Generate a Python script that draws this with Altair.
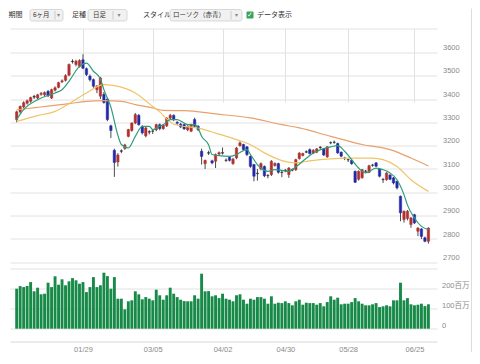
import json
import altair as alt
import pandas as pd

# ---------------- data ----------------
opens = [3312, 3345, 3366, 3382, 3390, 3408, 3404, 3420, 3418, 3433,
         3404, 3438, 3450, 3474, 3480, 3502, 3560, 3548, 3540, 3568,
         3530, 3498, 3483, 3440, 3412, 3420, 3400, 3285, 3180, 3130,
         3176, 3188, 3240, 3265, 3297, 3330, 3282, 3242, 3258, 3262,
         3268, 3290, 3273, 3285, 3318, 3330, 3300, 3292, 3290, 3268,
         3262, 3312, 3283, 3176, 3123, 3168, 3135, 3133, 3164, 3168,
         3137, 3150, 3123, 3147, 3200, 3205, 3195, 3154, 3119, 3080,
         3100, 3111, 3071, 3076, 3115, 3123, 3085, 3093, 3076, 3095,
         3097, 3145, 3158, 3172, 3183, 3168, 3172, 3192, 3186, 3152,
         3212, 3214, 3209, 3172, 3147, 3140, 3137, 3090, 3056, 3063,
         3090, 3086, 3116, 3126, 3100, 3054, 3054, 3074, 3062, 3047,
         2983, 2883, 2888, 2862, 2904, 2833, 2843, 2805, 2790]
highs = [3350, 3372, 3390, 3398, 3410, 3418, 3422, 3430, 3432, 3438,
         3444, 3454, 3474, 3484, 3506, 3552, 3570, 3568, 3570, 3592,
         3535, 3505, 3488, 3460, 3495, 3430, 3405, 3290, 3187, 3168,
         3184, 3208, 3272, 3300, 3340, 3336, 3288, 3280, 3266, 3270,
         3294, 3295, 3292, 3322, 3336, 3334, 3305, 3298, 3294, 3288,
         3294, 3320, 3288, 3187, 3140, 3178, 3140, 3166, 3175, 3192,
         3145, 3155, 3148, 3194, 3219, 3208, 3198, 3158, 3122, 3100,
         3128, 3115, 3078, 3138, 3128, 3127, 3095, 3100, 3108, 3102,
         3144, 3172, 3170, 3180, 3188, 3185, 3190, 3198, 3190, 3198,
         3218, 3222, 3213, 3175, 3152, 3145, 3140, 3093, 3094, 3100,
         3096, 3118, 3122, 3130, 3104, 3062, 3086, 3078, 3066, 3050,
         2986, 2922, 2924, 2894, 2908, 2850, 2846, 2810, 2850]
lows = [3300, 3338, 3360, 3376, 3384, 3400, 3400, 3414, 3412, 3408,
        3400, 3432, 3446, 3468, 3475, 3498, 3552, 3540, 3535, 3528,
        3498, 3475, 3448, 3425, 3400, 3380, 3305, 3233, 3066, 3110,
        3168, 3182, 3236, 3260, 3292, 3286, 3248, 3236, 3248, 3250,
        3262, 3266, 3268, 3280, 3314, 3305, 3290, 3275, 3268, 3262,
        3258, 3278, 3262, 3119, 3100, 3160, 3120, 3104, 3160, 3162,
        3130, 3132, 3118, 3142, 3196, 3178, 3155, 3105, 3047, 3050,
        3094, 3065, 3060, 3070, 3110, 3080, 3065, 3086, 3062, 3090,
        3092, 3140, 3154, 3168, 3162, 3164, 3168, 3186, 3156, 3148,
        3206, 3208, 3165, 3150, 3138, 3130, 3118, 3040, 3050, 3058,
        3084, 3082, 3110, 3108, 3064, 3040, 3050, 3052, 3034, 3012,
        2876, 2870, 2880, 2848, 2864, 2812, 2800, 2786, 2780]
closes = [3345, 3368, 3384, 3392, 3406, 3411, 3418, 3424, 3428, 3414,
          3440, 3448, 3470, 3478, 3500, 3548, 3562, 3562, 3565, 3532,
          3505, 3483, 3455, 3455, 3490, 3385, 3312, 3265, 3128, 3160,
          3178, 3203, 3269, 3297, 3333, 3290, 3255, 3276, 3260, 3263,
          3290, 3273, 3288, 3318, 3330, 3312, 3296, 3280, 3272, 3283,
          3290, 3283, 3269, 3154, 3137, 3170, 3126, 3162, 3170, 3170,
          3138, 3137, 3142, 3190, 3212, 3183, 3162, 3111, 3069, 3082,
          3123, 3071, 3072, 3133, 3124, 3086, 3086, 3095, 3104, 3098,
          3140, 3168, 3166, 3174, 3166, 3180, 3186, 3194, 3160, 3195,
          3213, 3215, 3169, 3155, 3146, 3139, 3123, 3043, 3090, 3097,
          3091, 3114, 3117, 3112, 3069, 3055, 3083, 3056, 3040, 3019,
          2912, 2919, 2919, 2890, 2869, 2847, 2811, 2790, 2847]
# volume, millions of shares
volumes = [200, 213, 208, 213, 233, 187, 205, 172, 175, 230,
           208, 262, 220, 247, 217, 237, 253, 242, 225, 233,
           183, 208, 258, 208, 217, 280, 263, 200, 258, 150,
           150, 97, 137, 142, 187, 172, 147, 158, 150, 142,
           195, 167, 145, 167, 205, 175, 158, 145, 138, 137,
           137, 167, 150, 275, 187, 188, 162, 167, 153, 175,
           150, 145, 137, 167, 172, 145, 125, 150, 145, 158,
           158, 150, 125, 162, 125, 130, 128, 137, 128, 117,
           137, 145, 120, 130, 128, 128, 120, 128, 112, 133,
           162, 145, 155, 122, 125, 125, 133, 153, 137, 125,
           117, 117, 122, 128, 108, 112, 117, 112, 142, 142,
           230, 142, 153, 122, 117, 120, 125, 113, 122]

# moving-average lines read at sample bars (bar index, price)
ma_short_idx = [0, 2, 6, 11, 13, 15, 18, 20, 22, 24, 25, 27, 29, 30, 32, 34, 36, 38, 39, 41,
                42, 44, 46, 49, 51, 52, 53, 55, 56, 58, 61, 63, 64, 66, 67, 69, 70, 72, 74, 76,
                78, 80, 82, 84, 86, 90, 92, 94, 96, 98, 100, 103, 105, 107, 109, 111, 112, 114,
                116, 118]
ma_short_val = [3312, 3354, 3397, 3426, 3440, 3476, 3540, 3554, 3519, 3486, 3440, 3365, 3245,
                3205, 3190, 3240, 3283, 3283, 3269, 3283, 3290, 3312, 3312, 3290, 3290, 3275,
                3240, 3204, 3162, 3157, 3154, 3162, 3171, 3183, 3162, 3119, 3104, 3090, 3097,
                3094, 3090, 3109, 3133, 3158, 3176, 3195, 3200, 3176, 3140, 3104, 3083, 3104,
                3097, 3083, 3054, 2990, 2945, 2890, 2854, 2840]
ma_mid_idx = [0, 6, 11, 15, 20, 25, 28, 34, 39, 41, 43, 45, 53, 57, 63, 67, 71, 76, 80, 84,
              95, 102, 105, 109, 113, 118]
ma_mid_val = [3304, 3329, 3347, 3380, 3426, 3462, 3457, 3426, 3368, 3345, 3315, 3292, 3272,
              3254, 3226, 3204, 3169, 3136, 3126, 3135, 3147, 3147, 3140, 3111, 3054, 3004]
ma_long_idx = [0, 6, 15, 20, 25, 30, 34, 39, 42, 48, 57, 67, 76, 81, 90, 99, 107, 113, 118]
ma_long_val = [3354, 3364, 3380, 3390, 3393, 3390, 3376, 3362, 3351, 3350, 3336, 3319, 3290,
               3276, 3240, 3205, 3183, 3147, 3113]

tick_idx = [19, 39, 59, 77, 95, 114]
tick_lbl = ["01/29", "03/05", "04/02", "04/30", "05/28", "06/25"]
price_ticks = [2700, 2800, 2900, 3000, 3100, 3200, 3300, 3400, 3500, 3600]
vol_ticks = [0, 100e6, 200e6]

# ---------------- tables ----------------
def direction(o, c):
    if abs(c - o) <= 3:
        return "flat"
    return "up" if c > o else "down"

bars = pd.DataFrame({
    "i": list(range(len(closes))),
    "open": opens, "high": highs, "low": lows, "close": closes,
    "vol": [v * 1e6 for v in volumes],
    "dir": [direction(o, c) for o, c in zip(opens, closes)],
})
ma_long = pd.DataFrame({"i": ma_long_idx, "v": ma_long_val})
ma_mid = pd.DataFrame({"i": ma_mid_idx, "v": ma_mid_val})
ma_short = pd.DataFrame({"i": ma_short_idx, "v": ma_short_val})

# ---------------- layout ----------------
W, H = 427, 313
PRICE_BOTTOM = 239.5
P_MIN, P_MAX = 2675.6, 3702.2
V_MIN, V_MAX = -64e6, 303.5e6
GRID = "#e2e2e2"
LBL = "#8a8a8a"
FONT = "Liberation Sans, Noto Sans CJK JP, sans-serif"
JP = "Noto Sans CJK JP"

x_enc = alt.X(
    "i:Q", title=None,
    scale=alt.Scale(domain=[-0.48, 119.03], nice=False, zero=False),
    axis=alt.Axis(
        values=tick_idx,
        labelExpr=f"{json.dumps(tick_lbl)}[indexof({json.dumps(tick_idx)}, datum.value)]",
        grid=True, gridColor=GRID, domainColor="#d8d8d8", ticks=False,
        labelColor=LBL, labelFontSize=7.5, labelFont=FONT, labelPadding=3.5,
        labelOverlap=False, labelFlush=False,
    ),
)

price_axis = alt.Axis(
    orient="right", values=[P_MIN] + price_ticks + [P_MAX],
    labelExpr="datum.value % 100 === 0 ? format(datum.value, 'd') : ''",
    grid=True, gridColor=GRID, domain=False, ticks=False,
    labelPadding=5.5, labelFontSize=7.5, labelFont=FONT, labelColor=LBL,
    labelBaseline="middle", labelOffset=-4.7, labelOverlap=False, labelAlign="left",
)
price_scale = alt.Scale(domain=[P_MIN, P_MAX], range=[PRICE_BOTTOM, 0], nice=False, zero=False)

def py(field):
    return alt.Y(field, title=None, scale=price_scale, axis=price_axis)

dir_scale = alt.Scale(domain=["up", "down", "flat"], range=["#b3302e", "#2329a6", "#2a2a2a"])

wicks = alt.Chart(bars).mark_rule(color="#4a4a4a", strokeWidth=1).encode(
    x=x_enc, y=py("low:Q"), y2="high:Q")
bodies = alt.Chart(bars).mark_bar(size=2.4, strokeWidth=0.5).encode(
    x=x_enc, y=py("open:Q"), y2="close:Q",
    color=alt.Color("dir:N", scale=dir_scale, legend=None),
    stroke=alt.Stroke("dir:N", scale=dir_scale, legend=None))

def ma_line(df, color):
    return alt.Chart(df).mark_line(strokeWidth=1.2, interpolate="monotone", color=color).encode(
        x=x_enc, y=py("v:Q"), order=alt.Order("i:Q"))

price = alt.layer(wicks, bodies,
                  ma_line(ma_long, "#e8a06c"),
                  ma_line(ma_mid, "#f0c468"),
                  ma_line(ma_short, "#2f9c7a"))

volume = alt.Chart(bars).mark_bar(size=2.9, color="#178a48").encode(
    x=x_enc,
    y=alt.Y("vol:Q", title=None,
            scale=alt.Scale(domain=[V_MIN, V_MAX], range=[H, PRICE_BOTTOM], nice=False, zero=False),
            axis=alt.Axis(orient="right", values=vol_ticks,
                          labelExpr="datum.value == 0 ? '0' : format(datum.value / 1e6, 'd') + '百万'",
                          grid=True, gridColor=GRID, domain=False, ticks=False,
                          labelPadding=4.5, labelFontSize=7.5, labelFont=FONT, labelColor=LBL,
                          labelBaseline="middle", labelOffset=-3.5, labelOverlap=False,
                          labelAlign="left")),
    y2=alt.datum(0))

# ---------------- toolbar decoration (page UI) ----------------
one = alt.Data(values=[{}])
TY = -13.5

def txt(s, x, size=7, color="#333", font=JP, align="left"):
    return alt.Chart(one).mark_text(text=s, align=align, baseline="middle", fontSize=size,
                                    font=font, color=color).encode(x=alt.value(x), y=alt.value(TY))

def box(x1, x2):
    return alt.Chart(one).mark_rect(fill="#f1f1f1", stroke="#cfcfcf", strokeWidth=0.8,
                                    cornerRadius=2).encode(
        x=alt.value(x1), x2=alt.value(x2), y=alt.value(-19), y2=alt.value(-7.5))

def sep(x):
    return alt.Chart(one).mark_rule(color="#c4c4c4", strokeWidth=0.8).encode(
        x=alt.value(x), y=alt.value(-17.5), y2=alt.value(-9))

deco = [
    txt("期間", -1.5),
    box(20, 53), txt("6ヶ月", 23, size=6.5), sep(45), txt("▾", 48.5, size=6, color="#888", font="DejaVu Sans", align="center"),
    txt("足種", 62),
    box(78, 117), txt("日足", 83, size=6.5), sep(103), txt("▾", 109, size=6, color="#888", font="DejaVu Sans", align="center"),
    txt("スタイル", 133),
    box(160, 232), txt("ローソク（赤青）", 163, size=6.5), sep(221), txt("▾", 226.5, size=6, color="#888", font="DejaVu Sans", align="center"),
    alt.Chart(one).mark_rect(fill="#3aa35a", cornerRadius=1).encode(
        x=alt.value(236.5), x2=alt.value(243.5), y=alt.value(-17), y2=alt.value(-10)),
    txt("✓", 240, size=7, color="white", font="DejaVu Sans", align="center"),
    txt("データ表示", 247),
    alt.Chart(one).mark_rule(color="#dddddd", strokeWidth=1).encode(
        x=alt.value(461.5), y=alt.value(-20), y2=alt.value(330)),
]

chart = alt.layer(volume, price, *deco).resolve_scale(y="independent").properties(
    width=W, height=H,
    padding={"left": 2, "top": 20.5, "right": 35, "bottom": 10.5},
    autosize=alt.AutoSizeParams(type="none"),
    background="white",
).configure_view(strokeWidth=0)

chart.save("out.html", embed_options={"renderer": "svg", "actions": False})
